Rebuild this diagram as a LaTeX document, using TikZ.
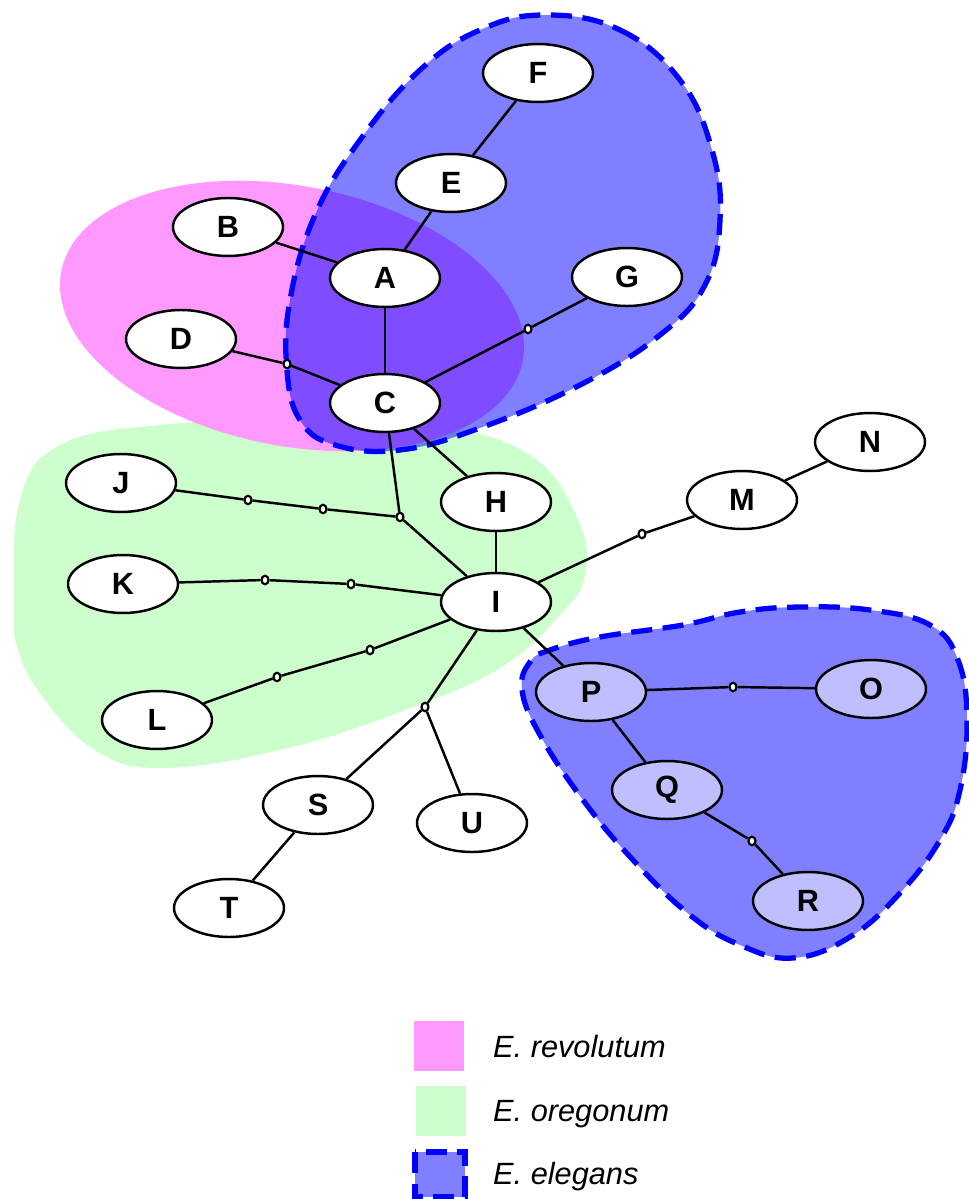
\documentclass[tikz,border=0pt]{standalone}
\usepackage{fontspec}
\setmainfont{Liberation Sans}
\usetikzlibrary{shapes.geometric}
\definecolor{revpink}{RGB}{255,153,255}
\definecolor{oregreen}{RGB}{204,255,204}
\definecolor{nodelav}{RGB}{191,191,255}
\begin{document}
\begin{tikzpicture}[x=0.02cm,y=-0.02cm,
  taxon/.style={ellipse,draw,line width=1.4pt,fill=white,minimum width=2.2cm,minimum height=1.16cm,inner sep=0pt,font=\fontsize{17.5}{20}\selectfont\bfseries},
  inblob/.style={taxon,fill=nodelav},
  jn/.style={ellipse,draw,line width=1.2pt,fill=white,minimum width=0.14cm,minimum height=0.17cm,inner sep=0pt},
  edge/.style={line width=1.4pt},
  elegans/.style={fill=blue,fill opacity=0.5,draw=blue,line width=3pt,dash pattern=on 12pt off 6pt},
  legtext/.style={anchor=base west,font=\fontsize{17.5}{20}\selectfont\itshape}]
\useasboundingbox (0,0) rectangle (968,1199);
% regions
\fill[oregreen] plot[smooth cycle,tension=0.7] coordinates {(14,600) (20,500) (60,445) (160,425) (300,420) (430,425) (530,455) (578,520) (585,575) (560,615) (500,668) (400,712) (280,750) (160,768) (95,750) (45,700) (18,650)};
\fill[revpink,rotate around={-11:(292,316)}] (292,316) ellipse [x radius=4.7cm,y radius=2.6cm];
\path[elegans] plot[smooth cycle,tension=0.7] coordinates {(545,15) (620,30) (680,80) (712,150) (720,220) (705,285) (660,335) (580,385) (480,428) (400,450) (335,445) (300,420) (287,370) (290,300) (315,215) (360,140) (420,70) (480,30)};
\path[elegans] plot[smooth cycle,tension=0.7] coordinates {(550,650) (600,637) (683,625) (740,612) (800,607) (870,610) (930,625) (958,660) (967,720) (960,790) (940,840) (900,893) (850,937) (793,958) (740,945) (690,915) (633,860) (583,800) (540,735) (522,690) (530,662)};
% nodes
\node[taxon] (F) at (538,73) {F};
\node[taxon] (E) at (451,183) {E};
\node[taxon] (B) at (228,227) {B};
\node[taxon] (A) at (385,278) {A};
\node[taxon] (G) at (627,277) {G};
\node[taxon] (D) at (181,339) {D};
\node[taxon] (C) at (385,403) {C};
\node[taxon] (N) at (870,442) {N};
\node[taxon] (J) at (121,483) {J};
\node[taxon] (H) at (496,502) {H};
\node[taxon] (M) at (742,500) {M};
\node[taxon] (K) at (123,584) {K};
\node[taxon] (I) at (496,602) {I};
\node[taxon] (L) at (157,720) {L};
\node[inblob] (P) at (591,692) {P};
\node[inblob] (O) at (871,689) {O};
\node[inblob] (Q) at (667,790) {Q};
\node[taxon] (S) at (318,805) {S};
\node[taxon] (U) at (472,823) {U};
\node[inblob] (R) at (808,901) {R};
\node[taxon] (T) at (229,908) {T};
% junctions
\node[jn] (jd) at (287,364) {};
\node[jn] (jg) at (528,329) {};
\node[jn] (jc) at (400,517) {};
\node[jn] (j1) at (248,500) {};
\node[jn] (j2) at (323,509) {};
\node[jn] (k1) at (265,580) {};
\node[jn] (k2) at (351,584) {};
\node[jn] (l1) at (277,677) {};
\node[jn] (l2) at (370,650) {};
\node[jn] (js) at (425,707) {};
\node[jn] (jm) at (642,534) {};
\node[jn] (jo) at (733,687) {};
\node[jn] (jr) at (752,841) {};
% edges
\draw[edge] (F) -- (E);
\draw[edge] (E) -- (A);
\draw[edge] (B) -- (A);
\draw[edge] (A) -- (C);
\draw[edge] (D) -- (jd) -- (C);
\draw[edge] (C) -- (jg) -- (G);
\draw[edge] (C) -- (jc) -- (I);
\draw[edge] (C) -- (H);
\draw[edge] (H) -- (I);
\draw[edge] (J) -- (j1) -- (j2) -- (jc);
\draw[edge] (K) -- (k1) -- (k2) -- (I);
\draw[edge] (L) -- (l1) -- (l2) -- (I);
\draw[edge] (I) -- (js) -- (S);
\draw[edge] (js) -- (U);
\draw[edge] (S) -- (T);
\draw[edge] (I) -- (jm) -- (M);
\draw[edge] (M) -- (N);
\draw[edge] (I) -- (P);
\draw[edge] (P) -- (jo) -- (O);
\draw[edge] (P) -- (Q);
\draw[edge] (Q) -- (jr) -- (R);
% legend
\fill[revpink] (414,1021) rectangle (464,1071);
\fill[oregreen] (416,1086) rectangle (466,1136);
\path[elegans] (415,1152) rectangle (465,1197);
\node[legtext] (lrev) at (487,1057) {E. revolutum};
\node[legtext] (lore) at (487,1121) {E. oregonum};
\node[legtext] (lele) at (487,1184) {E. elegans};
\end{tikzpicture}
\end{document}
